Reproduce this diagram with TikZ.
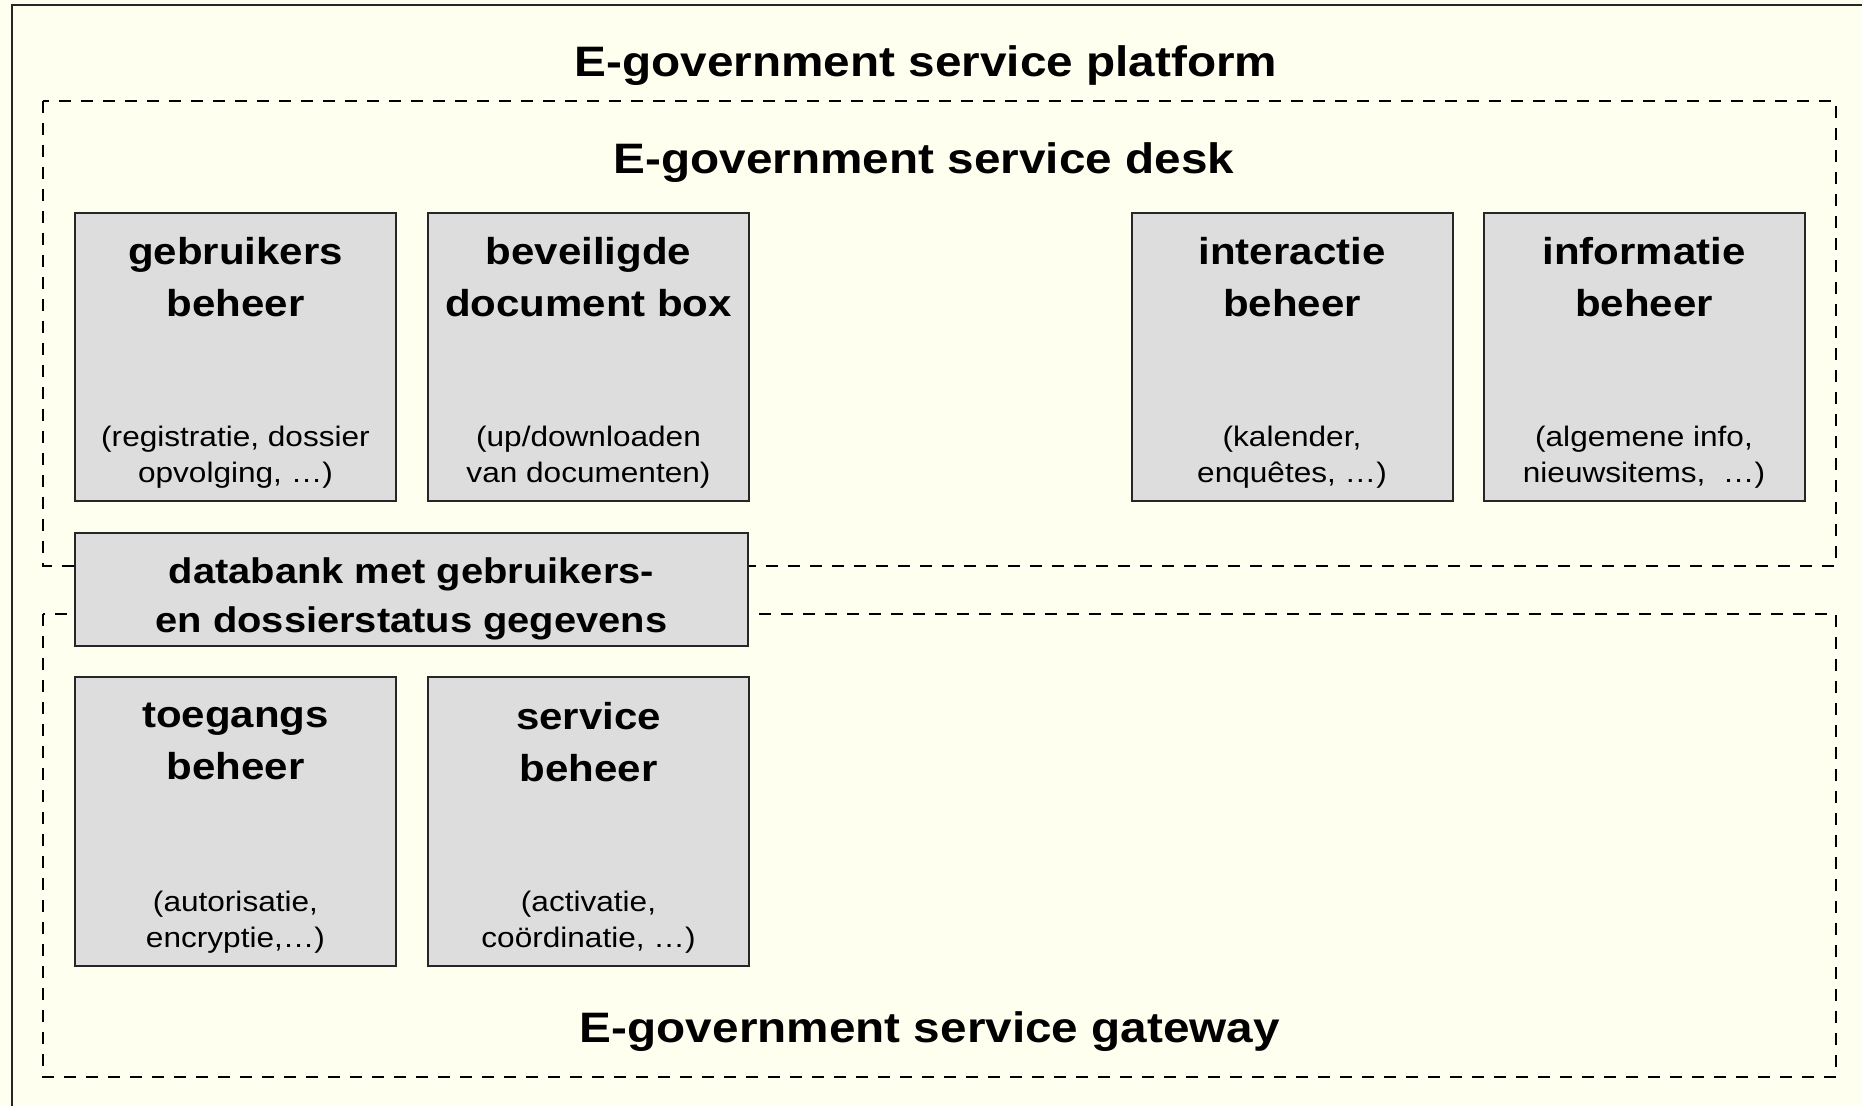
\documentclass[tikz,border=0pt]{standalone}
\usepackage{fontspec}
\setmainfont{Liberation Sans}[FakeStretch=1.12]
\usepackage{tikz}
\usetikzlibrary{positioning}
\definecolor{paper}{RGB}{255,255,240}
\definecolor{boxgray}{RGB}{221,221,221}

\begin{document}
\begin{tikzpicture}[x=0.5pt,y=-0.5pt,
		frame/.style={draw=black!85,line width=1pt},
		zone/.style={draw=black,line width=1pt,dash pattern=on 6pt off 5pt},
		heading/.style={anchor=base,inner sep=0pt,font=\fontsize{21.3pt}{26pt}\selectfont\bfseries},
		module/.style={draw=black!85,line width=1pt,fill=boxgray,inner sep=0pt,
			minimum width=160.5pt,minimum height=144pt},
		modtitle/.style={inner sep=0pt,align=center,font=\fontsize{18.75pt}{26pt}\selectfont\bfseries,
			execute at begin node=\vphantom{b}},
		modnote/.style={inner sep=0pt,align=center,font=\fontsize{14.1pt}{18.3pt}\selectfont}]
		
		\useasboundingbox (0,0) rectangle (1862,1106);
		\fill[paper] (0,0) rectangle (1862,1106);
		\draw[frame] (12,5) rectangle (1880,1120);
		
		% desk and gateway areas
		\draw[zone] (43,101) rectangle (1836,566);
		\draw[zone] (43,614) rectangle (1836,1077);
		
		\node[heading] (platform) at (926,77) {E-government service platform};
		\node[heading] (desk) at (924,174) {E-government service desk};
		\node[heading] (gateway) at (930,1042) {E-government service gateway};
		
		\node[module] (gebr) at (235.5,357) {};
		\node[module,right=15pt of gebr] (docbox) {};
		\node[module] (inter) at (1292,357) {};
		\node[module,right=14.5pt of inter] (info) {};
		
		\node[module,minimum width=336.5pt,minimum height=56.5pt,
			below=15pt of gebr.south west,anchor=north west] (db) {};
		\node[modtitle,font=\fontsize{17.8pt}{24.5pt}\selectfont\bfseries]
			(db-t) at ([yshift=-4.5pt]db.center) {databank met gebruikers-\\en dossierstatus gegevens};
		
		\node[module,minimum height=144.5pt,below=14.5pt of db.south west,anchor=north west] (toeg) {};
		\node[module,minimum height=144.5pt,right=15pt of toeg] (serv) {};
		
		\node[modtitle,below=12.5pt of gebr.north] (gebr-t) {gebruikers\\beheer};
		\node[modtitle,below=12.5pt of docbox.north] (docbox-t) {beveiligde\\document box};
		\node[modtitle,below=12.5pt of inter.north] (inter-t) {interactie\\beheer};
		\node[modtitle,below=12.5pt of info.north] (info-t) {informatie\\beheer};
		\node[modtitle,below=13.5pt of toeg.north] (toeg-t) {toegangs\\beheer};
		\node[modtitle,below=13pt of serv.north] (serv-t) {service\\beheer};
		
		\node[modnote,above=6.5pt of gebr.south] (gebr-n) {(registratie, dossier\\opvolging, …)};
		\node[modnote,above=6.5pt of docbox.south] (docbox-n) {(up/downloaden\\van documenten)};
		\node[modnote,above=6.5pt of inter.south] (inter-n) {(kalender,\\enquêtes, …)};
		\node[modnote,above=6.5pt of info.south] (info-n) {(algemene info,\\nieuwsitems, \ …)};
		\node[modnote,above=6.5pt of toeg.south] (toeg-n) {(autorisatie,\\encryptie,…)};
		\node[modnote,above=6.5pt of serv.south] (serv-n) {(activatie,\\coördinatie, …)};
		
		\end{tikzpicture}
\end{document}
